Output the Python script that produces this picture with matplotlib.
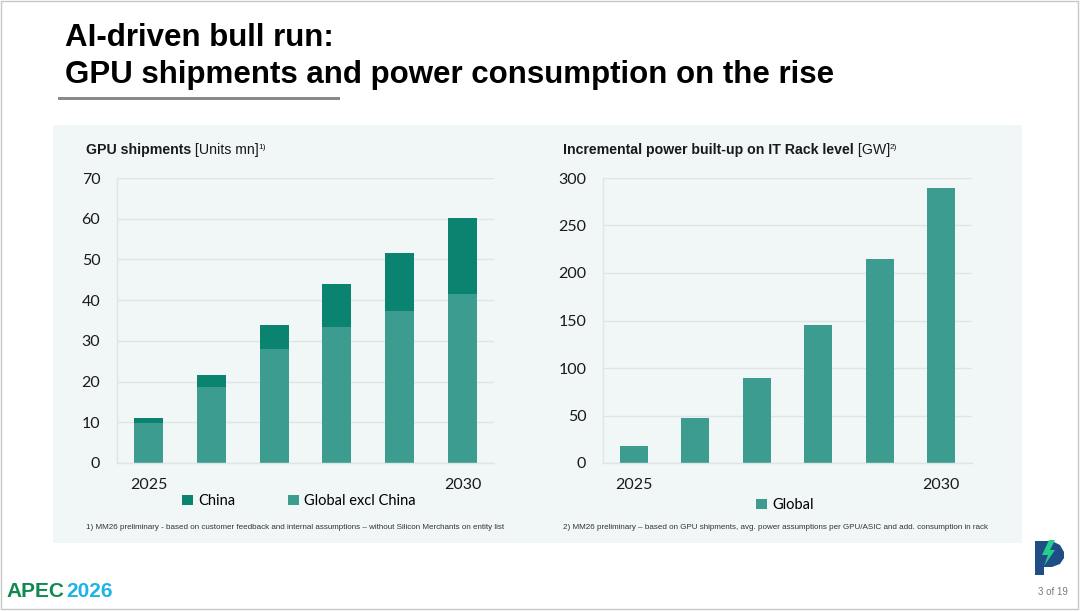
import matplotlib
matplotlib.use("Agg")
import matplotlib.pyplot as plt
from matplotlib.patches import Rectangle, Polygon

# ---------------- data ----------------
years = ["2025", "", "", "", "", "2030"]
gpu_global_excl_china = [9.8, 18.6, 28.1, 33.4, 37.3, 41.5]
gpu_china = [1.3, 3.1, 5.9, 10.6, 14.4, 18.6]
power_global = [18.3, 47.8, 90.0, 144.9, 214.8, 289.7]
gpu_yticks = [0, 10, 20, 30, 40, 50, 60, 70]
power_yticks = [0, 50, 100, 150, 200, 250, 300]

W, H = 1080, 611
C_GLOBAL = "#3c9c8f"
C_CHINA = "#0b8371"
PANEL = "#f1f6f6"
GRID = "#dfe5e6"
TICKFONT = "Lato"
ARIAL = "Liberation Sans"

fig = plt.figure(figsize=(W / 100, H / 100), dpi=100)
fig.patch.set_facecolor("white")


def fx(x):
    return x / W


def fy(y):
    return 1 - y / H


# slide border
fig.add_artist(Rectangle((fx(1), fy(609)), fx(1078) - fx(1), fy(1) - fy(609),
                         transform=fig.transFigure, fill=False,
                         edgecolor="#c8c8c8", linewidth=1))

# title
fig.text(fx(65), fy(46), "AI-driven bull run:", fontsize=22.5, fontweight="bold",
         family=ARIAL, color="black", va="baseline")
fig.text(fx(65), fy(83), "GPU shipments and power consumption on the rise",
         fontsize=22.5, fontweight="bold", family=ARIAL, color="black",
         va="baseline")
fig.add_artist(Rectangle((fx(58), fy(100)), fx(340) - fx(58), fy(97) - fy(100),
                         transform=fig.transFigure, facecolor="#8a8a8a",
                         edgecolor="none"))

# panel background
fig.add_artist(Rectangle((fx(53), fy(543)), fx(1022) - fx(53), fy(125) - fy(543),
                         transform=fig.transFigure, facecolor=PANEL,
                         edgecolor="none", zorder=0))

renderer = fig.canvas.get_renderer()


def rich_title(x, y, bold, regular, sup):
    t1 = fig.text(fx(x), fy(y), bold, fontsize=10.2, fontweight="bold",
                  family=ARIAL, color="#1a1a1a", va="baseline")
    bb = t1.get_window_extent(renderer)
    t2 = fig.text(bb.x1 / W, fy(y), regular, fontsize=10.2, family=ARIAL,
                  color="#1a1a1a", va="baseline")
    bb2 = t2.get_window_extent(renderer)
    fig.text(bb2.x1 / W - 0.0005, fy(y - 5), sup, fontsize=6, family=ARIAL,
             color="#1a1a1a", va="baseline")


rich_title(86, 154, "GPU shipments", " [Units mn]", "1)")
rich_title(563, 154, "Incremental power built-up on IT Rack level", " [GW]", "2)")


def style_axes(ax, yticks):
    ax.patch.set_alpha(0)
    for s in ["top", "right"]:
        ax.spines[s].set_visible(False)
    ax.spines["left"].set_color(GRID)
    ax.spines["bottom"].set_color(GRID)
    ax.spines["left"].set_linewidth(1)
    ax.spines["bottom"].set_linewidth(1)
    ax.set_yticks(yticks)
    ax.set_ylim(yticks[0], yticks[-1])
    ax.yaxis.grid(True, color=GRID, linewidth=1)
    ax.set_axisbelow(True)
    ax.tick_params(length=0, labelsize=11.5, labelcolor="#1a1a1a")
    ax.tick_params(axis="y", pad=12)
    ax.tick_params(axis="x", pad=11)
    for lab in ax.get_xticklabels() + ax.get_yticklabels():
        lab.set_family(TICKFONT)
    ax.set_xlim(-0.5, len(years) - 0.5)


x = list(range(len(years)))

# left chart
ax1 = fig.add_axes([fx(117), fy(463), fx(494) - fx(117), fy(178) - fy(463)])
ax1.bar(x, gpu_global_excl_china, width=0.46, color=C_GLOBAL,
        label="Global excl China")
ax1.bar(x, gpu_china, bottom=gpu_global_excl_china, width=0.46,
        color=C_CHINA, label="China")
ax1.set_xticks(x)
ax1.set_xticklabels(years)
style_axes(ax1, gpu_yticks)
h, l = ax1.get_legend_handles_labels()
fig.legend([h[1], h[0]], [l[1], l[0]], loc="center",
           bbox_to_anchor=(fx(299), fy(501)), ncol=2, frameon=False,
           prop={"family": TICKFONT, "size": 10.5}, handlelength=0.75,
           handleheight=0.75, handletextpad=0.35, columnspacing=3.6)

# right chart
ax2 = fig.add_axes([fx(603), fy(463), fx(972) - fx(603), fy(178) - fy(463)])
ax2.bar(x, power_global, width=0.46, color=C_GLOBAL, label="Global")
ax2.set_xticks(x)
ax2.set_xticklabels(years)
style_axes(ax2, power_yticks)
h2, l2 = ax2.get_legend_handles_labels()
fig.legend(h2, l2, loc="center",
           bbox_to_anchor=(fx(785), fy(505)), frameon=False,
           prop={"family": TICKFONT, "size": 10.5}, handlelength=0.75,
           handleheight=0.75, handletextpad=0.35)

# footnotes
fig.text(fx(86), fy(529),
         "1) MM26 preliminary - based on customer feedback and internal assumptions \u2013 without Silicon Merchants on entity list",
         fontsize=5.8, family=ARIAL, color="#333333", va="baseline")
fig.text(fx(563), fy(529),
         "2) MM26 preliminary \u2013 based on GPU shipments, avg. power assumptions per GPU/ASIC and add. consumption in rack",
         fontsize=5.8, family=ARIAL, color="#333333", va="baseline")

# footer: APEC logo text
t = fig.text(fx(6), fy(597), "APEC", fontsize=15, fontweight="bold",
             family=ARIAL, color="#0e8a4f", va="baseline")
bb = t.get_window_extent(renderer)
fig.text(bb.x1 / W + 0.002, fy(597), "2026", fontsize=15,
         fontweight="bold", family=ARIAL, color="#1bb3e8", va="baseline")

# page number
fig.text(fx(1068), fy(595), "3 of 19", fontsize=7, family=ARIAL,
         color="#7a7a7a", ha="right", va="baseline")

# simple P logo with bolt
fig.add_artist(Polygon([(fx(1035), fy(575)), (fx(1035), fy(541)),
                        (fx(1052), fy(541)), (fx(1060), fy(545)),
                        (fx(1064), fy(552)), (fx(1064), fy(558)),
                        (fx(1060), fy(564)), (fx(1052), fy(567)),
                        (fx(1044), fy(567)), (fx(1044), fy(575))],
                       closed=True, transform=fig.transFigure,
                       facecolor="#1f4e86", edgecolor="none"))
fig.add_artist(Polygon([(fx(1049), fy(540)), (fx(1042), fy(555)),
                        (fx(1048), fy(555)), (fx(1044), fy(566)),
                        (fx(1055), fy(550)), (fx(1050), fy(550)),
                        (fx(1055), fy(540))],
                       closed=True, transform=fig.transFigure,
                       facecolor="#23d08a", edgecolor="none"))

fig.savefig("out.png", dpi=100, facecolor="white")
